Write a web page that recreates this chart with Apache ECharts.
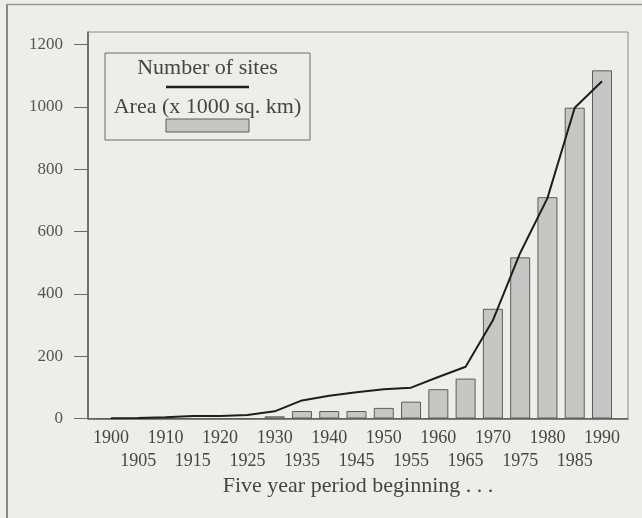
<!DOCTYPE html>
<html>
<head>
<meta charset="utf-8">
<script src="https://cdn.jsdelivr.net/npm/echarts@6/dist/echarts.min.js"></script>
<style>
html,body{margin:0;padding:0;background:#edede9;}
#c{width:642px;height:518px;}
</style>
</head>
<body>
<div id="c"></div>
<script>
const categories = ['1900','1905','1910','1915','1920','1925','1930','1935','1940','1945','1950','1955','1960','1965','1970','1975','1980','1985','1990'];
const areaValues = [0,0,0,0,0,0,7,24,24,24,34,54,94,128,352,517,710,997,1117];
const sitesValues = [1,2,4,8,8,11,23,58,73,84,94,99,133,166,315,531,707,997,1082];
const yTicks = [0,200,400,600,800,1000,1200];
const seriesNames = ['Number of sites','Area (x 1000 sq. km)'];
const xTitle = 'Five year period beginning . . .';

const FONT = "'Liberation Serif','Times New Roman',serif";
const TXT = '#454545';
const chart = echarts.init(document.getElementById('c'), null, {renderer:'canvas'});
const Y_MAX = 1240;

chart.setOption({
  backgroundColor: '#edede9',
  animation: false,
  textStyle: {fontFamily: FONT},
  grid: [
    {left: 88, right: 14, top: 32, bottom: 99.5, show: true, borderColor: '#8a8a8a', borderWidth: 1, backgroundColor: 'transparent'},
    {left: 97.35, right: 26.35, top: 32, bottom: 99.5}
  ],
  xAxis: [
    {type: 'value', gridIndex: 0, min: 0, max: 1,
     axisLine: {show: true, onZero: false, lineStyle: {color: '#5a5a5a', width: 1.5}},
     axisTick: {show: false}, axisLabel: {show: false}, splitLine: {show: false},
     name: xTitle, nameLocation: 'middle', nameGap: 57,
     nameTextStyle: {fontFamily: FONT, fontSize: 22, color: TXT}},
    {type: 'category', gridIndex: 1, data: categories,
     axisLine: {show: false}, axisTick: {show: false},
     axisLabel: {interval: 0, hideOverlap: false, margin: 8, fontFamily: FONT, fontSize: 18, color: TXT, lineHeight: 23,
       formatter: (v, i) => (i % 2 ? '\n' + v : v)}}
  ],
  yAxis: [
    {type: 'value', gridIndex: 0, min: 0, max: Y_MAX,
     axisLine: {show: true, onZero: false, lineStyle: {color: '#5a5a5a', width: 1.5}},
     axisTick: {show: true, length: 14, customValues: yTicks, lineStyle: {color: '#6a6a6a', width: 1}},
     axisLabel: {customValues: yTicks, margin: 25, fontFamily: FONT, fontSize: 17, color: '#555',
       formatter: v => String(v)},
     splitLine: {show: false}},
    {type: 'value', gridIndex: 1, min: 0, max: Y_MAX, show: false, splitLine: {show: false}}
  ],
  series: [
    {name: seriesNames[1], type: 'bar', xAxisIndex: 1, yAxisIndex: 1, data: areaValues, barWidth: 20,
     itemStyle: {color: '#c6c6c4', borderColor: '#5c5c5c', borderWidth: 1}, z: 2},
    {name: seriesNames[0], type: 'line', xAxisIndex: 1, yAxisIndex: 1, data: sitesValues, symbol: 'none',
     lineStyle: {color: '#1e1e1e', width: 2}, z: 3}
  ],
  graphic: [
    {type: 'line', shape: {x1: 7, y1: 4, x2: 7, y2: 518}, style: {stroke: '#888', lineWidth: 2}},
    {type: 'line', shape: {x1: 7, y1: 4.5, x2: 642, y2: 4.5}, style: {stroke: '#999', lineWidth: 1.5}},
    {type: 'rect', shape: {x: 105, y: 53, width: 205, height: 87}, style: {fill: 'transparent', stroke: '#6a6a6a', lineWidth: 1}},
    {type: 'text', x: 207.5, y: 68.5, style: {text: seriesNames[0], font: '22px ' + FONT, fill: TXT, align: 'center', verticalAlign: 'middle'}},
    {type: 'line', shape: {x1: 166, y1: 87, x2: 249, y2: 87}, style: {stroke: '#1e1e1e', lineWidth: 2.5}},
    {type: 'text', x: 207.5, y: 107, style: {text: seriesNames[1], font: '22px ' + FONT, fill: TXT, align: 'center', verticalAlign: 'middle'}},
    {type: 'rect', shape: {x: 166, y: 119, width: 83, height: 13}, style: {fill: '#c6c6c4', stroke: '#5c5c5c', lineWidth: 1}}
  ]
});
</script>
</body>
</html>
